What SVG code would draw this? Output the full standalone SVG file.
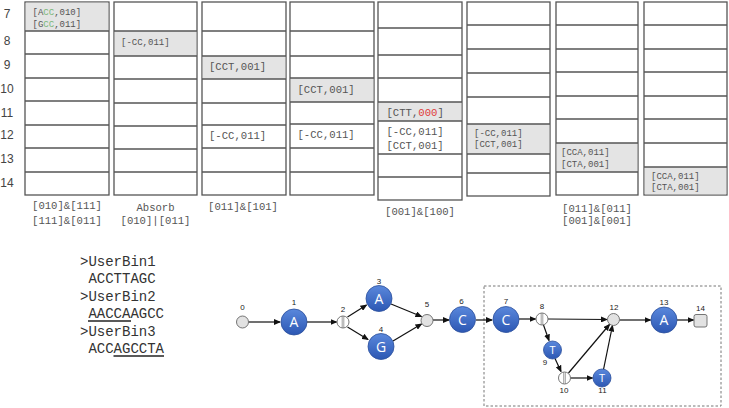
<svg xmlns="http://www.w3.org/2000/svg" width="729" height="408" viewBox="0 0 729 408">
<style>
.cell{fill:#fff;stroke:#555;stroke-width:1.3}
.hl{fill:#e4e4e4;stroke:none}
.ln{stroke:#555;stroke-width:1.3}
.rn{font-family:"Liberation Sans",Arial,sans-serif;font-size:12px;fill:#444;text-anchor:middle}
.ts{font-family:"Liberation Mono","Courier New",monospace;font-size:9px;fill:#555}
.tl{font-family:"Liberation Mono","Courier New",monospace;font-size:10.6px;fill:#555}
.bl{font-family:"Liberation Mono","Courier New",monospace;font-size:10.6px;fill:#555;text-anchor:middle}
.seq{font-family:"Liberation Mono","Courier New",monospace;font-size:14px;fill:#333}
.ul{stroke:#222;stroke-width:1.3}
.g{fill:#7cb87c}
.r{fill:#e03a3a}
.big{fill:url(#bg);stroke:#2b4f9c;stroke-width:0.8}
.gr{fill:#e2e2e2;stroke:#666;stroke-width:0.9}
.sp{fill:#fff;stroke:#666;stroke-width:0.9}
.nl{font-family:"Liberation Sans",Arial,sans-serif;font-size:8px;fill:#222;text-anchor:middle}
.lt{font-family:"Open Sans","Liberation Sans",sans-serif;font-size:14px;fill:#fff;text-anchor:middle}
.lts{font-family:"Open Sans","Liberation Sans",sans-serif;font-size:11px;fill:#fff;text-anchor:middle}
.e{stroke:#111;stroke-width:1.2;fill:none;marker-end:url(#ah)}
</style>
<defs>
<linearGradient id="bg" x1="0" y1="0" x2="0" y2="1">
<stop offset="0" stop-color="#5a88dc"/>
<stop offset="1" stop-color="#2c57b3"/>
</linearGradient>
<marker id="ah" markerWidth="7" markerHeight="6" refX="6" refY="3" orient="auto" markerUnits="userSpaceOnUse">
<path d="M0,0 L7,3 L0,6 Z" fill="#111"/>
</marker>
</defs>

<g id="row-labels">
<text class="rn" x="7" y="18">7</text>
<text class="rn" x="7" y="45">8</text>
<text class="rn" x="7" y="69">9</text>
<text class="rn" x="7" y="93">10</text>
<text class="rn" x="7" y="117">11</text>
<text class="rn" x="7" y="139">12</text>
<text class="rn" x="7" y="163">13</text>
<text class="rn" x="7" y="187">14</text>
</g>

<g id="table1">
<rect class="cell" x="25" y="2" width="84" height="193"/>
<rect class="hl" x="25.7" y="2.7" width="82.6" height="28.3"/>
<path class="ln" d="M25 31H109M25 54H109M25 78H109M25 101H109M25 125H109M25 148H109M25 172H109"/>
<text class="ts" x="32.5" y="15">[A<tspan class="g">CC</tspan>,010]</text>
<text class="ts" x="32.5" y="26.5">[G<tspan class="g">CC</tspan>,011]</text>
<text class="bl" x="67" y="208.5">[010]&amp;[111]</text>
<text class="bl" x="67" y="223.5">[111]&amp;[011]</text>
</g>

<g id="table2">
<rect class="cell" x="114" y="2" width="83" height="193"/>
<rect class="hl" x="114.7" y="31" width="81.6" height="25"/>
<path class="ln" d="M114 31H197M114 56H197M114 79H197M114 103H197M114 126H197M114 149H197M114 172H197"/>
<text class="ts" x="121" y="44.5">[-CC,011]</text>
<text class="bl" x="155.5" y="210.5">Absorb</text>
<text class="bl" x="155.5" y="224">[010]|[011]</text>
</g>

<g id="table3">
<rect class="cell" x="202" y="2" width="84" height="193"/>
<rect class="hl" x="202.7" y="56" width="82.6" height="23"/>
<path class="ln" d="M202 31H286M202 56H286M202 79H286M202 103H286M202 125H286M202 148H286M202 172H286"/>
<text class="tl" x="209" y="69.5">[CCT,001]</text>
<text class="tl" x="209" y="138.5">[-CC,011]</text>
<text class="bl" x="243" y="210">[011]&amp;[101]</text>
</g>

<g id="table4">
<rect class="cell" x="290" y="2" width="84" height="193"/>
<rect class="hl" x="290.7" y="78" width="82.6" height="24"/>
<path class="ln" d="M290 31H374M290 56H374M290 78H374M290 102H374M290 124H374M290 148H374M290 172H374"/>
<text class="tl" x="297.5" y="93">[CCT,001]</text>
<text class="tl" x="297.5" y="138">[-CC,011]</text>
</g>

<g id="table5">
<rect class="cell" x="378" y="2" width="84" height="198"/>
<rect class="hl" x="378.7" y="102" width="82.6" height="19"/>
<path class="ln" d="M378 28H462M378 55H462M378 78H462M378 102H462M378 121H462M378 154H462M378 177H462"/>
<text class="tl" x="386.5" y="115.5">[CTT,<tspan class="r">000</tspan>]</text>
<text class="tl" x="386.5" y="135">[-CC,011]</text>
<text class="tl" x="386.5" y="148.5">[CCT,001]</text>
<text class="bl" x="420" y="214.5">[001]&amp;[100]</text>
</g>

<g id="table6">
<rect class="cell" x="467" y="2" width="83" height="194"/>
<rect class="hl" x="467.7" y="124" width="81.6" height="30"/>
<path class="ln" d="M467 25H550M467 49H550M467 73H550M467 97H550M467 124H550M467 154H550M467 173H550"/>
<text class="ts" x="474" y="136">[-CC,011]</text>
<text class="ts" x="474" y="147">[CCT,001]</text>
</g>

<g id="table7">
<rect class="cell" x="556" y="2" width="82" height="193"/>
<rect class="hl" x="556.7" y="143" width="80.6" height="29"/>
<path class="ln" d="M556 25H638M556 49H638M556 72H638M556 96H638M556 119H638M556 143H638M556 172H638"/>
<text class="ts" x="561" y="155">[CCA,011]</text>
<text class="ts" x="561" y="166.5">[CTA,001]</text>
<text class="bl" x="597" y="211.5">[011]&amp;[011]</text>
<text class="bl" x="597" y="224">[001]&amp;[001]</text>
</g>

<g id="table8">
<rect class="cell" x="644" y="2" width="83" height="193"/>
<rect class="hl" x="644.7" y="167" width="81.6" height="27.3"/>
<path class="ln" d="M644 25H727M644 49H727M644 72H727M644 96H727M644 119H727M644 143H727M644 167H727"/>
<text class="ts" x="651" y="178.5">[CCA,011]</text>
<text class="ts" x="651" y="190">[CTA,001]</text>
</g>

<g id="sequences">
<text class="seq" x="80" y="266">&gt;UserBin1</text>
<text class="seq" x="88.4" y="283">ACCTTAGC</text>
<text class="seq" x="80" y="301">&gt;UserBin2</text>
<text class="seq" x="88.4" y="318">AACCAAGCC</text>
<line class="ul" x1="88" y1="321" x2="131" y2="321"/>
<text class="seq" x="80" y="336">&gt;UserBin3</text>
<text class="seq" x="88.4" y="353">ACCAGCCTA</text>
<line class="ul" x1="113.5" y1="356" x2="164" y2="356"/>
</g>

<rect id="region" x="484" y="286" width="237" height="120" fill="none" stroke="#777" stroke-width="1" stroke-dasharray="2.5,2"/>

<g id="connectors">
<line class="e" x1="248.5" y1="322" x2="280" y2="322"/>
<line class="e" x1="307" y1="322" x2="336.5" y2="322"/>
<line class="e" x1="347.5" y1="317" x2="366.5" y2="305"/>
<line class="e" x1="347.5" y1="327" x2="368" y2="339.5"/>
<line class="e" x1="391" y1="304" x2="421.5" y2="316.5"/>
<line class="e" x1="393" y1="341" x2="421.5" y2="324"/>
<line class="e" x1="433" y1="320" x2="449" y2="320"/>
<line class="e" x1="476" y1="320" x2="492" y2="320"/>
<line class="e" x1="519" y1="319" x2="535.5" y2="319"/>
<line class="e" x1="548" y1="319" x2="607" y2="319.5"/>
<line class="e" x1="543.5" y1="325" x2="549" y2="340.5"/>
<line class="e" x1="555" y1="358.5" x2="561" y2="371.5"/>
<line class="e" x1="568.5" y1="373" x2="609.5" y2="324.5"/>
<line class="e" x1="570.5" y1="378" x2="592.5" y2="378"/>
<line class="e" x1="603.5" y1="369.5" x2="612.5" y2="325.5"/>
<line class="e" x1="619.5" y1="320" x2="650.5" y2="320"/>
<line class="e" x1="677" y1="320" x2="693.5" y2="320"/>
</g>

<g id="node0"><circle class="gr" cx="242.5" cy="322" r="6"/><text class="nl" x="242.5" y="310">0</text></g>
<g id="node1"><circle class="big" cx="294" cy="322" r="13"/><text class="lt" x="294" y="327">A</text><text class="nl" x="294" y="305">1</text></g>
<g id="node2"><circle class="sp" cx="343" cy="322" r="6"/><path d="M342.2 316.2V327.8M343.8 316.2V327.8" stroke="#777" stroke-width="0.7"/><text class="nl" x="343" y="311.5">2</text></g>
<g id="node3"><circle class="big" cx="379" cy="298.5" r="13"/><text class="lt" x="379" y="303.5">A</text><text class="nl" x="379" y="283.5">3</text></g>
<g id="node4"><circle class="big" cx="381" cy="346.5" r="13"/><text class="lt" x="381" y="351.5">G</text><text class="nl" x="381" y="331.5">4</text></g>
<g id="node5"><circle class="gr" cx="427" cy="320.5" r="6"/><text class="nl" x="427" y="307">5</text></g>
<g id="node6"><circle class="big" cx="462.5" cy="319.5" r="13"/><text class="lt" x="462.5" y="324.5">C</text><text class="nl" x="461.5" y="304">6</text></g>
<g id="node7"><circle class="big" cx="506" cy="319.5" r="13"/><text class="lt" x="506" y="324.5">C</text><text class="nl" x="506" y="303.5">7</text></g>
<g id="node8"><circle class="sp" cx="542" cy="319" r="6"/><path d="M541.2 313.2V324.8M542.8 313.2V324.8" stroke="#777" stroke-width="0.7"/><text class="nl" x="542" y="309">8</text></g>
<g id="node9"><circle class="big" cx="552.5" cy="350" r="9"/><text class="lts" x="552.5" y="354">T</text><text class="nl" x="545" y="364.5">9</text></g>
<g id="node10"><circle class="sp" cx="564.5" cy="378" r="6"/><path d="M563.7 372.2V383.8M565.3 372.2V383.8" stroke="#777" stroke-width="0.7"/><text class="nl" x="564" y="392.5">10</text></g>
<g id="node11"><circle class="big" cx="602" cy="378" r="9"/><text class="lts" x="602" y="382">T</text><text class="nl" x="602.5" y="393">11</text></g>
<g id="node12"><circle class="gr" cx="613.5" cy="319.5" r="6"/><text class="nl" x="614" y="309.5">12</text></g>
<g id="node13"><circle class="big" cx="664" cy="320" r="13"/><text class="lt" x="664" y="325">A</text><text class="nl" x="664" y="304.5">13</text></g>
<g id="node14"><rect class="gr" x="694" y="314.5" width="13" height="12.5" rx="2"/><text class="nl" x="700.5" y="311">14</text></g>
</svg>
